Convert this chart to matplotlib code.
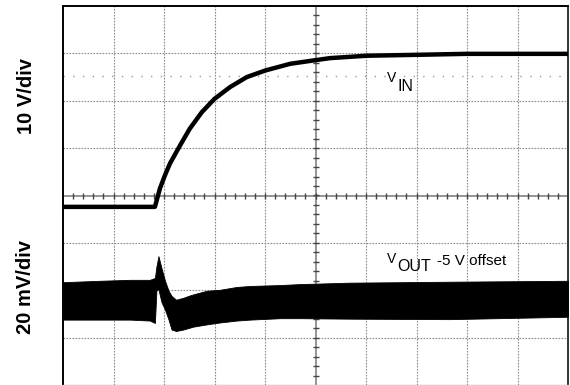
"""Scope capture: input step (VIN) and output ripple (VOUT, -5 V offset).

Axes are in screen divisions: 10 horizontal, 8 vertical, centre at (5, 0).
"""

import matplotlib

matplotlib.use("Agg")
import matplotlib.pyplot as plt
import numpy as np

plt.rcParams["font.family"] = ["Liberation Sans", "DejaVu Sans"]

# VIN trace (div, div)
vin_t = [0.0, 1.82, 1.92, 2.02, 2.12, 2.32, 2.51, 2.75, 3.00, 3.31, 3.64,
         4.01, 4.50, 5.02, 5.29, 6.01, 7.03, 7.99, 10.0]
vin_v = [-0.24, -0.24, 0.15, 0.43, 0.68, 1.06, 1.41, 1.76, 2.04, 2.29, 2.50,
         2.64, 2.78, 2.86, 2.90, 2.95, 2.97, 2.99, 2.99]

# VOUT noise band: upper and lower envelope (div)
vout_t = [0.0, 0.73, 1.33, 1.72, 1.82, 1.85, 1.89, 1.95, 2.02, 2.09, 2.15,
          2.24, 2.38, 2.51, 2.57, 2.85, 3.11, 3.44, 3.70, 4.30, 4.69, 5.68,
          7.66, 10.0]
vout_hi = [-1.83, -1.80, -1.78, -1.78, -1.74, -1.50, -1.28, -1.53, -1.80,
           -2.01, -2.12, -2.20, -2.16, -2.11, -2.09, -2.01, -1.99, -1.93,
           -1.91, -1.89, -1.87, -1.84, -1.82, -1.80]
vout_lo = [-2.62, -2.62, -2.62, -2.64, -2.69, -2.00, -1.98, -2.25, -2.41,
           -2.62, -2.83, -2.86, -2.83, -2.79, -2.77, -2.72, -2.68, -2.64,
           -2.62, -2.59, -2.59, -2.60, -2.61, -2.56]

VIN_MARKER = 2.53  # dotted reference level in the upper half

GRID_COLOR = "#8c8c8c"

fig = plt.figure(figsize=(5.7, 3.85), dpi=100)
ax = fig.add_axes([63 / 570, 0.0, 505 / 570, 1 - 6 / 385])
ax.set_xlim(0, 10)
ax.set_ylim(-4, 4)
ax.set_xticks([])
ax.set_yticks([])

# graticule
for x in range(1, 10):
    if x == 5:
        continue
    ax.axvline(x, color=GRID_COLOR, lw=0.8, ls=(0, (1.5, 1.2)), zorder=1)
for y in range(-3, 4):
    if y == 0:
        continue
    ax.axhline(y, color=GRID_COLOR, lw=0.8, ls=(0, (1.5, 1.2)), zorder=1)
ax.axvline(5, color="#777777", lw=1.1, zorder=1)
ax.axhline(0, color="#777777", lw=1.1, zorder=1)
minor_x = np.arange(0.2, 10, 0.2)
minor_y = np.arange(-3.8, 4, 0.2)
ax.plot(minor_x, np.zeros_like(minor_x), ls="none", marker="|", ms=5,
        mew=1.0, color="#444444", zorder=1)
ax.plot(np.full_like(minor_y, 5.0), minor_y, ls="none", marker="_", ms=5,
        mew=1.0, color="#444444", zorder=1)
ax.axhline(VIN_MARKER, color="#999999", lw=1.0, ls=(0, (1, 6)), zorder=1)

# traces
ax.plot(vin_t, vin_v, color="black", lw=3.2, solid_capstyle="butt",
        solid_joinstyle="round", zorder=3)
ax.fill_between(vout_t, vout_lo, vout_hi, color="black", lw=0.6,
                edgecolor="black", zorder=3)

# channel annotations
ax.text(6.42, 2.40, "V", fontsize=10, va="baseline", ha="left")
ax.text(6.63, 2.21, "IN", fontsize=11.5, va="baseline", ha="left")
ax.text(6.42, -1.43, "V", fontsize=10, va="baseline", ha="left")
ax.text(6.61, -1.59, "OUT", fontsize=11.5, va="baseline", ha="left")
ax.text(7.41, -1.47, "-5 V offset", fontsize=11, va="baseline", ha="left")

fig.text(26 / 570, 1 - 96 / 385, "10 V/div", rotation=90, fontsize=14.5,
         fontweight="bold", ha="center", va="center")
fig.text(26 / 570, 1 - 287 / 385, "20 mV/div", rotation=90, fontsize=14.5,
         fontweight="bold", ha="center", va="center")

for side in ("left", "top"):
    ax.spines[side].set_color("black")
    ax.spines[side].set_linewidth(1.4)
ax.spines["right"].set_color("#333333")
ax.spines["right"].set_linewidth(1.4)
ax.spines["bottom"].set_color("#bbbbbb")
ax.spines["bottom"].set_linewidth(1.0)

fig.savefig("out.png", dpi=100)
